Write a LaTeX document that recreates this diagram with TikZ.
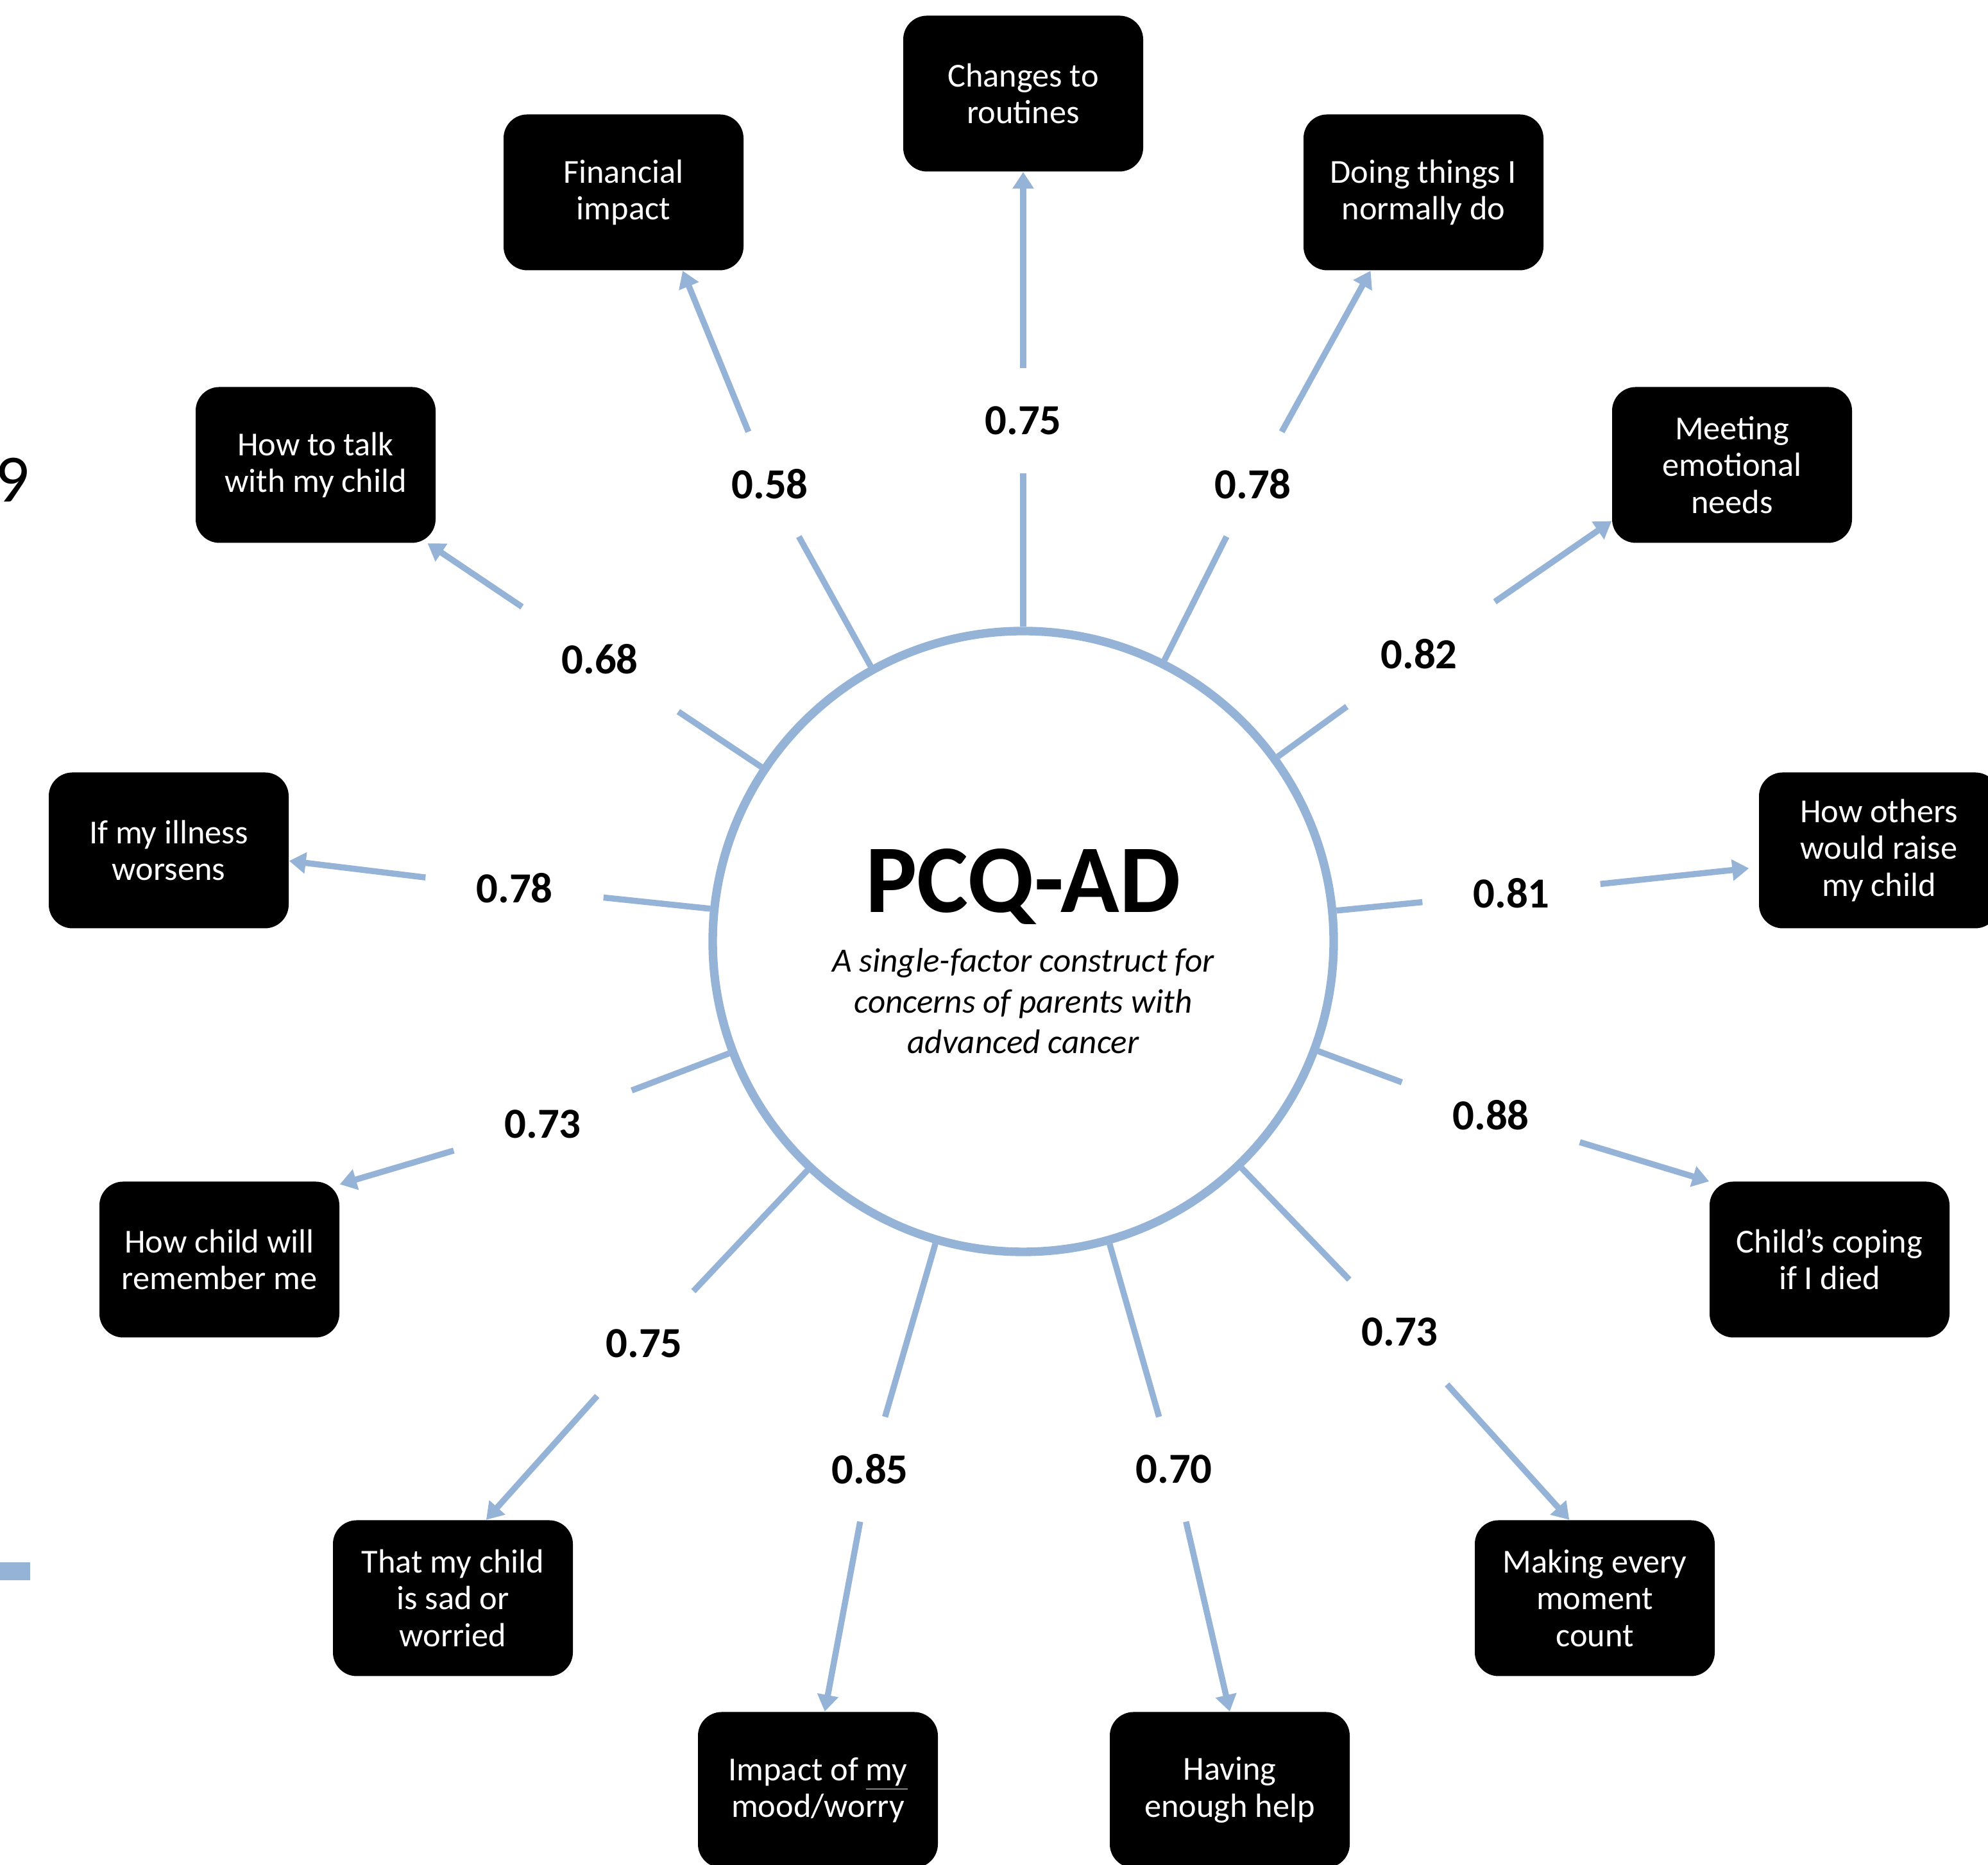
\documentclass[tikz,border=0pt]{standalone}
\usepackage{fontspec}
\setmainfont{Carlito}
\usetikzlibrary{arrows.meta}
\definecolor{linkblue}{RGB}{149,179,215}

\begin{document}
\begin{tikzpicture}[
       concern/.style={
         rectangle,
         rounded corners=0.37cm,
         fill=black,
         text=white,
         align=center,
         font=\fontsize{14.9}{16.3}\selectfont,
         minimum width=3.74cm,
         minimum height=2.43cm,
         inner sep=0pt
       },
       weight/.style={
         font=\fontsize{19}{22}\selectfont\bfseries,
         minimum width=2.76cm,
         minimum height=1.62cm,
         inner sep=0pt
       },
       hub/.style={
         circle,
         draw=linkblue,
         line width=3.8pt,
         minimum size=9.68cm,
         inner sep=0pt
       },
       link/.style={
         draw=linkblue,
         line width=2.7pt
       },
       linkarrow/.style={
         link,
         -{Triangle[width=0.32cm,length=0.26cm]}
       }
     ]

       \useasboundingbox (0,0) rectangle (30.99,29.08);
       \clip (0,0) rectangle (30.99,29.08);

       \node (edge9) at (0.47,21.25) [anchor=base east, inner sep=0pt, font=\fontsize{30}{36}\selectfont]{9};
       \fill[linkblue] (0,4.44) rectangle (0.47,4.72);

       \node (pcq) at (15.95,14.40) [hub]{};
       \node (title) at (15.95,14.85) [anchor=base, font=\fontsize{43}{50}\selectfont\bfseries]{PCQ-AD};
       \node (subtitle) at (15.95,13.47) [align=center, font=\fontsize{15.1}{18}\selectfont\itshape]{A single-factor construct for\\concerns of parents with\\advanced cancer};

       \node (b1) at (15.95,27.62) [concern]{Changes to\\routines};
       \node (b2) at (22.19,26.08) [concern]{Doing things I\\normally do};
       \node (b3) at (27.00,21.83) [concern]{Meeting\\emotional\\needs};
       \node (b4) at (29.29,15.82) [concern]{How others\\would raise\\my child};
       \node (b5) at (28.52,9.44) [concern]{Child’s coping\\if I died};
       \node (b6) at (24.86,4.16) [concern]{Making every\\moment\\count};
       \node (b7) at (19.17,1.17) [concern]{Having\\enough help};
       \node (b8) at (12.75,1.17) [concern]{Impact of \underline{my}\\mood/worry};
       \node (b9) at (7.06,4.16) [concern]{That my child\\is sad or\\worried};
       \node (b10) at (3.42,9.44) [concern]{How child will\\remember me};
       \node (b11) at (2.63,15.82) [concern]{If my illness\\worsens};
       \node (b12) at (4.92,21.83) [concern]{How to talk\\with my child};
       \node (b13) at (9.72,26.08) [concern]{Financial\\impact};

       \node (l1) at (15.95,22.52) [weight]{0.75};
       \node (l2) at (19.53,21.53) [weight]{0.78};
       \node (l3) at (22.12,18.88) [weight]{0.82};
       \node (l4) at (23.56,15.15) [weight]{0.81};
       \node (l5) at (23.24,11.69) [weight]{0.88};
       \node (l6) at (21.82,8.31) [weight]{0.73};
       \node (l7) at (18.30,6.17) [weight]{0.70};
       \node (l8) at (13.56,6.17) [weight]{0.85};
       \node (l9) at (10.04,8.13) [weight]{0.75};
       \node (l10) at (8.46,11.55) [weight]{0.73};
       \node (l11) at (8.02,15.23) [weight]{0.78};
       \node (l12) at (9.35,18.80) [weight]{0.68};
       \node (l13) at (12.00,21.53) [weight]{0.58};

       \draw[link] (pcq) -- (l1);
       \draw[link] (pcq) -- (l2);
       \draw[link] (pcq) -- (l3);
       \draw[link] (pcq) -- (l4);
       \draw[link] (pcq) -- (l5);
       \draw[link] (pcq) -- (l6);
       \draw[link] (pcq) -- (l7);
       \draw[link] (pcq) -- (l8);
       \draw[link] (pcq) -- (l9);
       \draw[link] (pcq) -- (l10);
       \draw[link] (pcq) -- (l11);
       \draw[link] (pcq) -- (l12);
       \draw[link] (pcq) -- (l13);

       \draw[linkarrow] (l1) -- (b1.south);
       \draw[linkarrow] (l2) -- (b2.236);
       \draw[linkarrow] (l3) -- (b3.205);
       \draw[linkarrow, shorten >=0.15cm] (l4) -- (b4.188);
       \draw[linkarrow] (l5) -- (b5.147);
       \draw[linkarrow] (l6) -- (b6.108);
       \draw[linkarrow] (l7) -- (b7.north);
       \draw[linkarrow] (l8) -- (b8.85);
       \draw[linkarrow] (l9) -- (b9.67);
       \draw[linkarrow] (l10) -- (b10.32);
       \draw[linkarrow] (l11) -- (b11.-5);
       \draw[linkarrow] (l12) -- (b12.-35);
       \draw[linkarrow] (l13) -- (b13.-53);

\end{tikzpicture}
\end{document}
